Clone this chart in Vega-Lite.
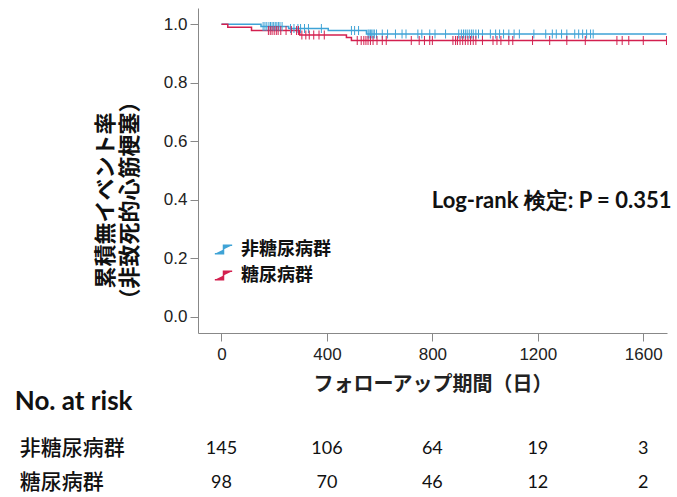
{
  "$schema": "https://vega.github.io/schema/vega-lite/v6.json",
  "autosize": {"type": "none"},
  "padding": {"left": 198, "top": 8, "right": 10, "bottom": 164},
  "width": 469,
  "height": 325,
  "background": "white",
  "config": {"view": {"stroke": null}, "font": "Liberation Sans", "axis": {"labelFont": "Liberation Sans"}},
  "datasets": {
    "curves": [
      {"g": "非糖尿病群", "t": 0, "s": 1.0},
      {"g": "非糖尿病群", "t": 150, "s": 0.993},
      {"g": "非糖尿病群", "t": 255, "s": 0.986},
      {"g": "非糖尿病群", "t": 405, "s": 0.979},
      {"g": "非糖尿病群", "t": 550, "s": 0.967},
      {"g": "非糖尿病群", "t": 1688, "s": 0.967},
      {"g": "糖尿病群", "t": 0, "s": 1.0},
      {"g": "糖尿病群", "t": 24, "s": 0.99},
      {"g": "糖尿病群", "t": 114, "s": 0.979},
      {"g": "糖尿病群", "t": 297, "s": 0.964},
      {"g": "糖尿病群", "t": 474, "s": 0.955},
      {"g": "糖尿病群", "t": 493, "s": 0.945},
      {"g": "糖尿病群", "t": 1688, "s": 0.945}
    ],
    "censor": [
      {"g": "非糖尿病群", "t": 158, "s": 0.993}, {"g": "非糖尿病群", "t": 165, "s": 0.993}, {"g": "非糖尿病群", "t": 172, "s": 0.993}, {"g": "非糖尿病群", "t": 180, "s": 0.993}, {"g": "非糖尿病群", "t": 186, "s": 0.993}, {"g": "非糖尿病群", "t": 192, "s": 0.993}, {"g": "非糖尿病群", "t": 198, "s": 0.993}, {"g": "非糖尿病群", "t": 204, "s": 0.993}, {"g": "非糖尿病群", "t": 210, "s": 0.993}, {"g": "非糖尿病群", "t": 216, "s": 0.993}, {"g": "非糖尿病群", "t": 222, "s": 0.993}, {"g": "非糖尿病群", "t": 230, "s": 0.993},
      {"g": "非糖尿病群", "t": 262, "s": 0.986}, {"g": "非糖尿病群", "t": 275, "s": 0.986}, {"g": "非糖尿病群", "t": 290, "s": 0.986}, {"g": "非糖尿病群", "t": 300, "s": 0.986}, {"g": "非糖尿病群", "t": 315, "s": 0.986}, {"g": "非糖尿病群", "t": 330, "s": 0.986}, {"g": "非糖尿病群", "t": 379, "s": 0.986},
      {"g": "非糖尿病群", "t": 493, "s": 0.979}, {"g": "非糖尿病群", "t": 505, "s": 0.979}, {"g": "非糖尿病群", "t": 520, "s": 0.979},
      {"g": "非糖尿病群", "t": 556, "s": 0.967}, {"g": "非糖尿病群", "t": 560, "s": 0.967}, {"g": "非糖尿病群", "t": 565, "s": 0.967}, {"g": "非糖尿病群", "t": 570, "s": 0.967}, {"g": "非糖尿病群", "t": 575, "s": 0.967}, {"g": "非糖尿病群", "t": 580, "s": 0.967}, {"g": "非糖尿病群", "t": 588, "s": 0.967}, {"g": "非糖尿病群", "t": 610, "s": 0.967}, {"g": "非糖尿病群", "t": 630, "s": 0.967}, {"g": "非糖尿病群", "t": 660, "s": 0.967}, {"g": "非糖尿病群", "t": 685, "s": 0.967}, {"g": "非糖尿病群", "t": 700, "s": 0.967}, {"g": "非糖尿病群", "t": 745, "s": 0.967}, {"g": "非糖尿病群", "t": 760, "s": 0.967}, {"g": "非糖尿病群", "t": 790, "s": 0.967}, {"g": "非糖尿病群", "t": 810, "s": 0.967}, {"g": "非糖尿病群", "t": 850, "s": 0.967}, {"g": "非糖尿病群", "t": 900, "s": 0.967}, {"g": "非糖尿病群", "t": 910, "s": 0.967}, {"g": "非糖尿病群", "t": 918, "s": 0.967}, {"g": "非糖尿病群", "t": 925, "s": 0.967}, {"g": "非糖尿病群", "t": 932, "s": 0.967}, {"g": "非糖尿病群", "t": 940, "s": 0.967}, {"g": "非糖尿病群", "t": 948, "s": 0.967}, {"g": "非糖尿病群", "t": 955, "s": 0.967}, {"g": "非糖尿病群", "t": 965, "s": 0.967}, {"g": "非糖尿病群", "t": 975, "s": 0.967}, {"g": "非糖尿病群", "t": 990, "s": 0.967}, {"g": "非糖尿病群", "t": 1020, "s": 0.967}, {"g": "非糖尿病群", "t": 1040, "s": 0.967}, {"g": "非糖尿病群", "t": 1055, "s": 0.967}, {"g": "非糖尿病群", "t": 1070, "s": 0.967}, {"g": "非糖尿病群", "t": 1090, "s": 0.967}, {"g": "非糖尿病群", "t": 1110, "s": 0.967}, {"g": "非糖尿病群", "t": 1130, "s": 0.967}, {"g": "非糖尿病群", "t": 1185, "s": 0.967}, {"g": "非糖尿病群", "t": 1230, "s": 0.967}, {"g": "非糖尿病群", "t": 1255, "s": 0.967}, {"g": "非糖尿病群", "t": 1270, "s": 0.967}, {"g": "非糖尿病群", "t": 1290, "s": 0.967}, {"g": "非糖尿病群", "t": 1310, "s": 0.967}, {"g": "非糖尿病群", "t": 1340, "s": 0.967}, {"g": "非糖尿病群", "t": 1355, "s": 0.967}, {"g": "非糖尿病群", "t": 1370, "s": 0.967}, {"g": "非糖尿病群", "t": 1385, "s": 0.967}, {"g": "非糖尿病群", "t": 1400, "s": 0.967}, {"g": "非糖尿病群", "t": 1410, "s": 0.967},
      {"g": "糖尿病群", "t": 178, "s": 0.979}, {"g": "糖尿病群", "t": 185, "s": 0.979}, {"g": "糖尿病群", "t": 192, "s": 0.979}, {"g": "糖尿病群", "t": 200, "s": 0.979}, {"g": "糖尿病群", "t": 208, "s": 0.979}, {"g": "糖尿病群", "t": 215, "s": 0.979}, {"g": "糖尿病群", "t": 225, "s": 0.979}, {"g": "糖尿病群", "t": 245, "s": 0.979}, {"g": "糖尿病群", "t": 265, "s": 0.979}, {"g": "糖尿病群", "t": 285, "s": 0.979}, {"g": "糖尿病群", "t": 292, "s": 0.979},
      {"g": "糖尿病群", "t": 305, "s": 0.964}, {"g": "糖尿病群", "t": 320, "s": 0.964}, {"g": "糖尿病群", "t": 333, "s": 0.964}, {"g": "糖尿病群", "t": 350, "s": 0.964}, {"g": "糖尿病群", "t": 370, "s": 0.964}, {"g": "糖尿病群", "t": 390, "s": 0.964},
      {"g": "糖尿病群", "t": 515, "s": 0.945}, {"g": "糖尿病群", "t": 530, "s": 0.945}, {"g": "糖尿病群", "t": 540, "s": 0.945}, {"g": "糖尿病群", "t": 548, "s": 0.945}, {"g": "糖尿病群", "t": 556, "s": 0.945}, {"g": "糖尿病群", "t": 565, "s": 0.945}, {"g": "糖尿病群", "t": 575, "s": 0.945}, {"g": "糖尿病群", "t": 590, "s": 0.945}, {"g": "糖尿病群", "t": 610, "s": 0.945}, {"g": "糖尿病群", "t": 625, "s": 0.945}, {"g": "糖尿病群", "t": 720, "s": 0.945}, {"g": "糖尿病群", "t": 750, "s": 0.945}, {"g": "糖尿病群", "t": 770, "s": 0.945}, {"g": "糖尿病群", "t": 790, "s": 0.945}, {"g": "糖尿病群", "t": 800, "s": 0.945}, {"g": "糖尿病群", "t": 878, "s": 0.945}, {"g": "糖尿病群", "t": 888, "s": 0.945}, {"g": "糖尿病群", "t": 895, "s": 0.945}, {"g": "糖尿病群", "t": 905, "s": 0.945}, {"g": "糖尿病群", "t": 915, "s": 0.945}, {"g": "糖尿病群", "t": 925, "s": 0.945}, {"g": "糖尿病群", "t": 935, "s": 0.945}, {"g": "糖尿病群", "t": 945, "s": 0.945}, {"g": "糖尿病群", "t": 955, "s": 0.945}, {"g": "糖尿病群", "t": 965, "s": 0.945}, {"g": "糖尿病群", "t": 990, "s": 0.945}, {"g": "糖尿病群", "t": 1030, "s": 0.945}, {"g": "糖尿病群", "t": 1045, "s": 0.945}, {"g": "糖尿病群", "t": 1060, "s": 0.945}, {"g": "糖尿病群", "t": 1090, "s": 0.945}, {"g": "糖尿病群", "t": 1105, "s": 0.945}, {"g": "糖尿病群", "t": 1180, "s": 0.945}, {"g": "糖尿病群", "t": 1245, "s": 0.945}, {"g": "糖尿病群", "t": 1310, "s": 0.945}, {"g": "糖尿病群", "t": 1380, "s": 0.945}, {"g": "糖尿病群", "t": 1500, "s": 0.945}, {"g": "糖尿病群", "t": 1520, "s": 0.945}, {"g": "糖尿病群", "t": 1545, "s": 0.945}, {"g": "糖尿病群", "t": 1600, "s": 0.945}, {"g": "糖尿病群", "t": 1688, "s": 0.945}
    ],
    "risk": [
      {"g": "非糖尿病群", "t": 0, "n": 145}, {"g": "非糖尿病群", "t": 400, "n": 106}, {"g": "非糖尿病群", "t": 800, "n": 64}, {"g": "非糖尿病群", "t": 1200, "n": 19}, {"g": "非糖尿病群", "t": 1600, "n": 3},
      {"g": "糖尿病群", "t": 0, "n": 98}, {"g": "糖尿病群", "t": 400, "n": 70}, {"g": "糖尿病群", "t": 800, "n": 46}, {"g": "糖尿病群", "t": 1200, "n": 12}, {"g": "糖尿病群", "t": 1600, "n": 2}
    ]
  },
  "layer": [
    {
      "data": {"name": "curves"},
      "mark": {"type": "line", "interpolate": "step-after", "strokeWidth": 1.5},
      "encoding": {
        "x": {"field": "t", "type": "quantitative",
          "scale": {"domain": [-89, 1690], "nice": false, "zero": false},
          "axis": {"values": [0, 400, 800, 1200, 1600], "format": "d", "grid": false, "labelFont": "Liberation Sans", "labelFontSize": 17, "labelColor": "#222", "labelPadding": 5, "tickSize": 8, "tickColor": "#888", "domainColor": "#888",
            "title": "フォローアップ期間（日）", "titleFont": "Noto Sans CJK JP", "titleFontSize": 20, "titleFontWeight": "bold", "titleColor": "#222", "titlePadding": 12}},
        "y": {"field": "s", "type": "quantitative",
          "scale": {"domain": [-0.056, 1.056], "nice": false, "zero": false},
          "axis": {"values": [0, 0.2, 0.4, 0.6, 0.8, 1.0], "format": ".1f", "grid": false, "labelFont": "Liberation Sans", "labelFontSize": 17, "labelColor": "#222", "labelPadding": 3, "tickSize": 8, "tickColor": "#888", "domainColor": "#888",
            "title": ["累積無イベント率", "（非致死的心筋梗塞）"], "titleFont": "Noto Sans CJK JP", "titleFontSize": 22, "titleFontWeight": "bold", "titleColor": "#111", "titleLineHeight": 24, "titleX": -93, "titleY": 192, "titleBaseline": "middle", "titleAlign": "center"}},
        "color": {"field": "g", "type": "nominal",
          "scale": {"domain": ["非糖尿病群", "糖尿病群"], "range": ["#3FA3D6", "#D3204F"]},
          "legend": {"orient": "none", "legendX": 16, "legendY": 232, "title": null, "symbolType": "M-1,0.5H0V-0.5H1", "symbolSize": 300, "symbolStrokeWidth": 1.5, "symbolFillColor": "transparent", "labelFont": "Noto Sans CJK JP", "labelFontSize": 18, "labelFontWeight": "bold", "labelColor": "#111", "rowPadding": 7, "labelOffset": 8}}
      }
    },
    {
      "data": {"name": "censor"},
      "mark": {"type": "tick", "orient": "vertical", "size": 9, "thickness": 1, "opacity": 1},
      "encoding": {
        "x": {"field": "t", "type": "quantitative"},
        "y": {"field": "s", "type": "quantitative"},
        "color": {"field": "g", "type": "nominal", "legend": null}
      }
    },
    {
      "data": {"values": [{"label": "Log-rank 検定: P = 0.351"}]},
      "mark": {"type": "text", "align": "right", "baseline": "middle", "font": "Lato", "fontSize": 22, "fontWeight": "bold", "color": "#111"},
      "encoding": {"x": {"datum": 1707}, "y": {"datum": 0.396}, "text": {"field": "label"}}
    },
    {
      "data": {"values": [{"label": "No. at risk"}]},
      "mark": {"type": "text", "align": "left", "baseline": "middle", "font": "Lato", "fontSize": 26, "fontWeight": "bold", "color": "#111"},
      "encoding": {"x": {"datum": -784}, "y": {"datum": -0.292}, "text": {"field": "label"}}
    },
    {
      "data": {"name": "risk"},
      "transform": [{"filter": "datum.g === '非糖尿病群'"}],
      "layer": [
        {"mark": {"type": "text", "align": "center", "baseline": "middle", "font": "Lato", "fontSize": 18, "color": "#111"},
         "encoding": {"x": {"field": "t", "type": "quantitative"}, "y": {"datum": -0.4525}, "text": {"field": "n"}}},
        {"transform": [{"filter": "datum.t === 0"}],
         "mark": {"type": "text", "align": "left", "baseline": "middle", "font": "Noto Sans CJK JP", "fontSize": 21, "fontWeight": 500, "color": "#111"},
         "encoding": {"x": {"datum": -765}, "y": {"datum": -0.4525}, "text": {"field": "g"}}}
      ]
    },
    {
      "data": {"name": "risk"},
      "transform": [{"filter": "datum.g === '糖尿病群'"}],
      "layer": [
        {"mark": {"type": "text", "align": "center", "baseline": "middle", "font": "Lato", "fontSize": 18, "color": "#111"},
         "encoding": {"x": {"field": "t", "type": "quantitative"}, "y": {"datum": -0.5687}, "text": {"field": "n"}}},
        {"transform": [{"filter": "datum.t === 0"}],
         "mark": {"type": "text", "align": "left", "baseline": "middle", "font": "Noto Sans CJK JP", "fontSize": 21, "fontWeight": 500, "color": "#111"},
         "encoding": {"x": {"datum": -765}, "y": {"datum": -0.5687}, "text": {"field": "g"}}}
      ]
    }
  ]
}
